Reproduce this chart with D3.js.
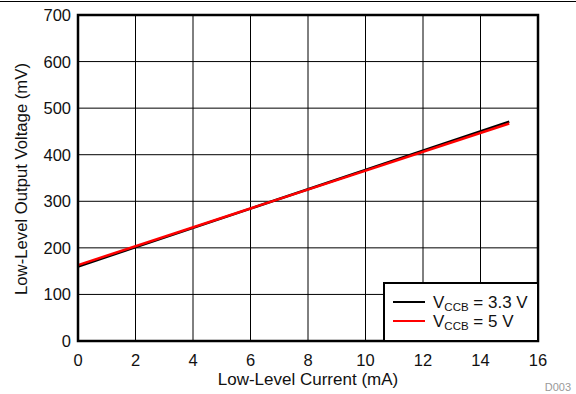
<!DOCTYPE html>
<html lang="en">
<head>
<meta charset="UTF-8">
<title>Low-Level Output Voltage</title>
<script src="https://d3js.org/d3.v7.min.js"></script>
<style>
  body { margin: 0; background: #fff; }
  text { font-family: "Liberation Sans", Arial, sans-serif; }
</style>
</head>
<body>
<div id="figure"></div>
<script>
// data
const current = [0, 15];            // mA
const v33 = [160, 471];             // mV, VCCB = 3.3 V
const v5 = [163, 467];              // mV, VCCB = 5 V
const xTicks = [0, 2, 4, 6, 8, 10, 12, 14, 16];
const yTicks = [0, 100, 200, 300, 400, 500, 600, 700];
const seriesNames = ["3.3 V", "5 V"];
const seriesColors = ["#000000", "#ff0000"];

const W = 576, H = 394;
const m = {left: 78, right: 38, top: 15, bottom: 53};

const svg = d3.select("#figure").append("svg")
    .attr("width", W)
    .attr("height", H);

// thin rule across the top of the page
svg.append("line")
    .attr("x1", 0).attr("x2", W)
    .attr("y1", 1.5).attr("y2", 1.5)
    .style("stroke", "#000").style("stroke-width", 1);

let x = d3.scaleLinear().domain([0, 16]).range([m.left, W - m.right]);
let y = d3.scaleLinear().domain([0, 700]).range([H - m.bottom, m.top]);

let plot = svg.append("g");

// grid
plot.selectAll(".vgrid").data(xTicks.slice(1, -1)).enter().append("line")
    .attr("x1", d => x(d)).attr("x2", d => x(d))
    .attr("y1", y(0)).attr("y2", y(700))
    .style("stroke", "#000").style("stroke-width", 1);
plot.selectAll(".hgrid").data(yTicks.slice(1, -1)).enter().append("line")
    .attr("y1", d => y(d)).attr("y2", d => y(d))
    .attr("x1", x(0)).attr("x2", x(16))
    .style("stroke", "#000").style("stroke-width", 1);

// series
let line = d3.line().x(d => x(d[0])).y(d => y(d[1]));
[v33, v5].forEach((vals, i) => {
    plot.append("path")
        .datum(current.map((c, k) => [c, vals[k]]))
        .attr("d", line)
        .style("fill", "none")
        .style("stroke", seriesColors[i])
        .style("stroke-width", 2.5);
});

// frame
plot.append("rect")
    .attr("x", x(0)).attr("y", y(700))
    .attr("width", x(16) - x(0)).attr("height", y(0) - y(700))
    .style("fill", "none").style("stroke", "#000").style("stroke-width", 2.5);

// tick labels
svg.selectAll(".xt").data(xTicks).enter().append("text")
    .attr("x", d => x(d)).attr("y", y(0) + 25)
    .attr("text-anchor", "middle")
    .style("font-size", "16.5px").style("fill", "#111")
    .text(d => d);
svg.selectAll(".yt").data(yTicks).enter().append("text")
    .attr("x", x(0) - 7).attr("y", d => y(d) + 6)
    .attr("text-anchor", "end")
    .style("font-size", "16.5px").style("fill", "#111")
    .text(d => d);

// axis titles
svg.append("text")
    .attr("x", (x(0) + x(16)) / 2).attr("y", 385)
    .attr("text-anchor", "middle")
    .style("font-size", "17px").style("fill", "#111")
    .text("Low-Level Current (mA)");
svg.append("text")
    .attr("transform", "translate(27,179) rotate(-90)")
    .attr("text-anchor", "middle")
    .style("font-size", "16.7px").style("fill", "#111")
    .text("Low-Level Output Voltage (mV)");

// legend
let lg = svg.append("g");
lg.append("rect")
    .attr("x", 384).attr("y", 283)
    .attr("width", x(16) - 384).attr("height", y(0) - 283)
    .style("fill", "#fff").style("stroke", "#000").style("stroke-width", 2);
seriesNames.forEach((name, i) => {
    let ly = 302 + i * 19;
    lg.append("line")
        .attr("x1", 393).attr("x2", 425)
        .attr("y1", ly).attr("y2", ly)
        .style("stroke", seriesColors[i]).style("stroke-width", 2);
    let t = lg.append("text")
        .attr("x", 433).attr("y", ly + 6)
        .style("font-size", "17px").style("fill", "#111");
    t.append("tspan").text("V");
    t.append("tspan").attr("dy", 3).style("font-size", "11.5px").text("CCB");
    t.append("tspan").attr("dy", -3).text(" = " + name);
});

svg.append("text")
    .attr("x", 571).attr("y", 391)
    .attr("text-anchor", "end")
    .style("font-size", "11px").style("fill", "#999")
    .text("D003");
</script>
</body>
</html>
